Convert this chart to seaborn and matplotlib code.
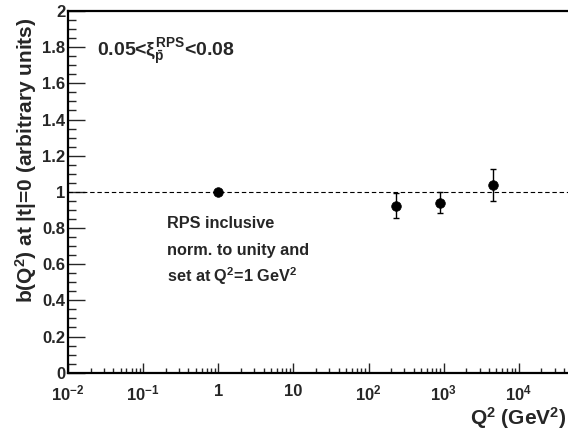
import numpy as np
import pandas as pd
import matplotlib
matplotlib.use("Agg")
import matplotlib.pyplot as plt
import matplotlib.ticker as mticker
import seaborn as sns

# ---- data ----
q2_values = [1.0, 230.0, 900.0, 4500.0]
b_values = [1.0, 0.924, 0.939, 1.037]
b_errors = [0.0, 0.07, 0.058, 0.087]

x_tick_values = [1e-2, 1e-1, 1, 10, 1e2, 1e3, 1e4]
x_tick_labels = [r"10$^{-2}$", r"10$^{-1}$", "1", "10", r"10$^{2}$", r"10$^{3}$", r"10$^{4}$"]
y_tick_values = [0, 0.2, 0.4, 0.6, 0.8, 1.0, 1.2, 1.4, 1.6, 1.8, 2.0]
y_tick_labels = ["0", "0.2", "0.4", "0.6", "0.8", "1", "1.2", "1.4", "1.6", "1.8", "2"]

df = pd.DataFrame({"Q2": q2_values, "b": b_values, "err": b_errors})

sns.set_theme(style="white")
plt.rcParams["font.family"] = ["Liberation Sans", "DejaVu Sans"]
plt.rcParams["font.weight"] = "bold"
plt.rcParams["mathtext.fontset"] = "custom"
plt.rcParams["mathtext.rm"] = "Liberation Sans:bold"
plt.rcParams["mathtext.bf"] = "Liberation Sans:bold"
plt.rcParams["mathtext.it"] = "Liberation Sans"
plt.rcParams["mathtext.sf"] = "Liberation Sans:bold"

fig = plt.figure(figsize=(5.68, 4.33), dpi=100)
ax = fig.add_axes([68 / 568, 60.3 / 433, 526 / 568, 361.7 / 433])

ax.axhline(1.0, color="black", lw=0.8, ls=(0, (4, 2.5)), zorder=1)
ax.errorbar(df["Q2"], df["b"], yerr=df["err"], fmt="none", ecolor="black",
            elinewidth=1.0, capsize=2.2, capthick=1.0, zorder=2)
sns.scatterplot(data=df, x="Q2", y="b", ax=ax, color="black", s=48,
                edgecolor="black", linewidth=0.5, zorder=3, legend=False)

ax.set_xscale("log")
ax.set_xlim(1e-2, 1e5)
ax.set_ylim(0, 2)

ax.xaxis.set_major_locator(mticker.FixedLocator(x_tick_values))
ax.xaxis.set_major_formatter(mticker.FixedFormatter(x_tick_labels))
ax.xaxis.set_minor_locator(mticker.LogLocator(base=10, subs=np.arange(2, 10), numticks=20))
ax.xaxis.set_minor_formatter(mticker.NullFormatter())
ax.yaxis.set_major_locator(mticker.FixedLocator(y_tick_values))
ax.yaxis.set_major_formatter(mticker.FixedFormatter(y_tick_labels))
ax.yaxis.set_minor_locator(mticker.MultipleLocator(0.05))

ax.tick_params(axis="x", which="major", direction="in", length=7.5, width=1.0,
               labelsize=12, pad=8, bottom=True, top=False)
ax.tick_params(axis="x", which="minor", direction="in", length=3.8, width=1.0,
               bottom=True, top=False)
ax.tick_params(axis="y", which="major", direction="in", length=12, width=1.0,
               labelsize=12, pad=2, left=True, right=False)
ax.tick_params(axis="y", which="minor", direction="in", length=6, width=1.0,
               left=True, right=False)
for lab in ax.get_xticklabels() + ax.get_yticklabels():
    lab.set_fontweight("bold")

for side in ["left", "bottom", "top"]:
    ax.spines[side].set_visible(True)
    ax.spines[side].set_color("black")
    ax.spines[side].set_linewidth(1.6)
ax.spines["right"].set_visible(False)

ax.set_xlabel("")
ax.set_ylabel("")

fig.text(26 / 568, 1 - 160 / 433, r"b(Q$^{2}$) at |t|=0 (arbitrary units)",
         rotation=90, ha="center", va="center", fontsize=15, fontweight="bold")
fig.text(566 / 568, 1 - 418 / 433, r"Q$^{2}$ (GeV$^{2}$)",
         ha="right", va="center", fontsize=15, fontweight="bold")

ax.text(0.055, 0.874, r"0.05<$\xi_{\bar{\mathrm{p}}}^{\mathrm{RPS}}$<0.08",
        transform=ax.transAxes, ha="left", va="baseline", fontsize=14, fontweight="bold")

ax.text(0.188, 0.399, "RPS inclusive", transform=ax.transAxes,
        ha="left", va="baseline", fontsize=11.7, fontweight="bold")
ax.text(0.188, 0.325, "norm. to unity and", transform=ax.transAxes,
        ha="left", va="baseline", fontsize=11.7, fontweight="bold")
ax.text(0.188, 0.251, r"set at Q$^{2}$=1 GeV$^{2}$", transform=ax.transAxes,
        ha="left", va="baseline", fontsize=11.7, fontweight="bold")

fig.savefig("out.png", dpi=100)
